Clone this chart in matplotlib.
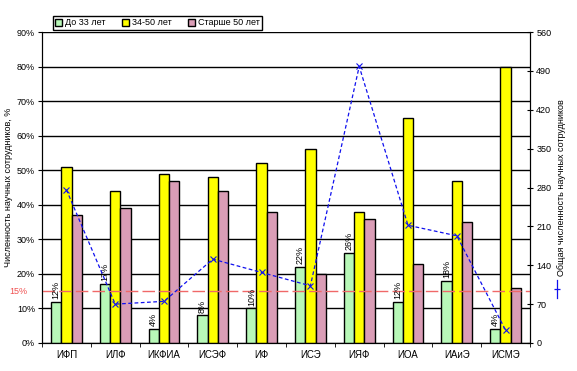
import matplotlib
matplotlib.use("Agg")
import matplotlib.pyplot as plt
import numpy as np
from matplotlib.lines import Line2D

plt.rcParams["font.family"] = ["Liberation Sans", "DejaVu Sans"]

institutes = ["ИФП", "ИЛФ", "ИКФИА", "ИСЭФ", "ИФ", "ИСЭ", "ИЯФ", "ИОА", "ИАиЭ", "ИСМЭ"]
young = [12, 17, 4, 8, 10, 22, 26, 12, 18, 4]
middle = [51, 44, 49, 48, 52, 56, 38, 65, 47, 80]
senior = [37, 39, 47, 44, 38, 20, 36, 23, 35, 16]
total = [276, 70, 75, 151, 127, 103, 498, 212, 193, 23]
threshold = 15

series_names = ["До 33 лет", "34-50 лет", "Старше 50 лет"]
colors = ["#b8f8b8", "#ffff00", "#da9db6"]

W, H = 577, 371
fig = plt.figure(figsize=(W / 100, H / 100), dpi=100)
ax = fig.add_axes([42 / W, 28 / H, 488 / W, 311 / H])

x = np.arange(len(institutes))
bw = 0.21
bars = []
for k, (vals, c) in enumerate(zip([young, middle, senior], colors)):
    b = ax.bar(x + (k - 1) * bw, vals, bw, color=c, edgecolor="black", linewidth=1.0, zorder=3)
    bars.append(b)

for xi, v in zip(x, young):
    ax.text(xi - bw, v + 0.8, f"{v}%", rotation=90, ha="center", va="bottom", fontsize=6.5, zorder=5)

ax.axhline(threshold, color="#f06868", linestyle=(0, (9, 3)), linewidth=1.0, zorder=4)
ax.text(-0.03, threshold, f"{threshold}%", transform=ax.get_yaxis_transform(), ha="right", va="center",
        fontsize=6.5, color="#f05050")

ax.set_xlim(-0.5, len(institutes) - 0.5)
ax.set_ylim(0, 90)
ax.set_yticks(np.arange(0, 91, 10))
ax.set_yticklabels([f"{v}%" for v in range(0, 91, 10)], fontsize=6.5)
ax.set_xticks(x)
ax.set_xticklabels(institutes, fontsize=7)
ax.set_xticks(np.arange(-0.5, len(institutes), 1), minor=True)
ax.tick_params(axis="x", which="major", length=0, pad=5)
ax.tick_params(axis="x", which="minor", length=3, direction="out")
ax.tick_params(axis="y", length=3, direction="out", pad=2)
ax.yaxis.grid(True, color="black", linewidth=1.0, zorder=0)
ax.set_axisbelow(True)
ax.spines["top"].set_visible(False)
ax.set_ylabel("Численность научных сотрудников, %", fontsize=6.5, labelpad=3)

ax2 = ax.twinx()
ax2.plot(x, total, color="#1010ee", linestyle=(0, (3, 2)), linewidth=0.9, marker="x", markersize=4,
         markeredgewidth=0.8, zorder=6)
ax2.set_ylim(0, 560)
ax2.set_yticks(np.arange(0, 561, 70))
ax2.tick_params(axis="y", labelsize=6.5, length=5, direction="inout", pad=2)
ax2.spines["top"].set_visible(False)
ax2.set_ylabel("Общая численность научных сотрудников", fontsize=6.5, labelpad=4)

# small line key under the right label
fig.add_artist(Line2D([557 / W, 557 / W], [(H - 280) / H, (H - 298) / H], color="#1010ee", linewidth=0.9))
fig.add_artist(Line2D([557 / W], [(H - 289) / H], color="#1010ee", marker="_", markersize=5, markeredgewidth=0.9))

fig.legend([b[0] for b in bars], series_names, loc="upper left", bbox_to_anchor=(48 / W, 1 - 11 / H),
           ncol=3, fontsize=6.5, frameon=True, fancybox=False, edgecolor="black", framealpha=1,
           handlelength=0.8, handleheight=0.8, handletextpad=0.3, columnspacing=1.8, borderpad=0.3)

fig.savefig("out.png", dpi=100, facecolor="white")
